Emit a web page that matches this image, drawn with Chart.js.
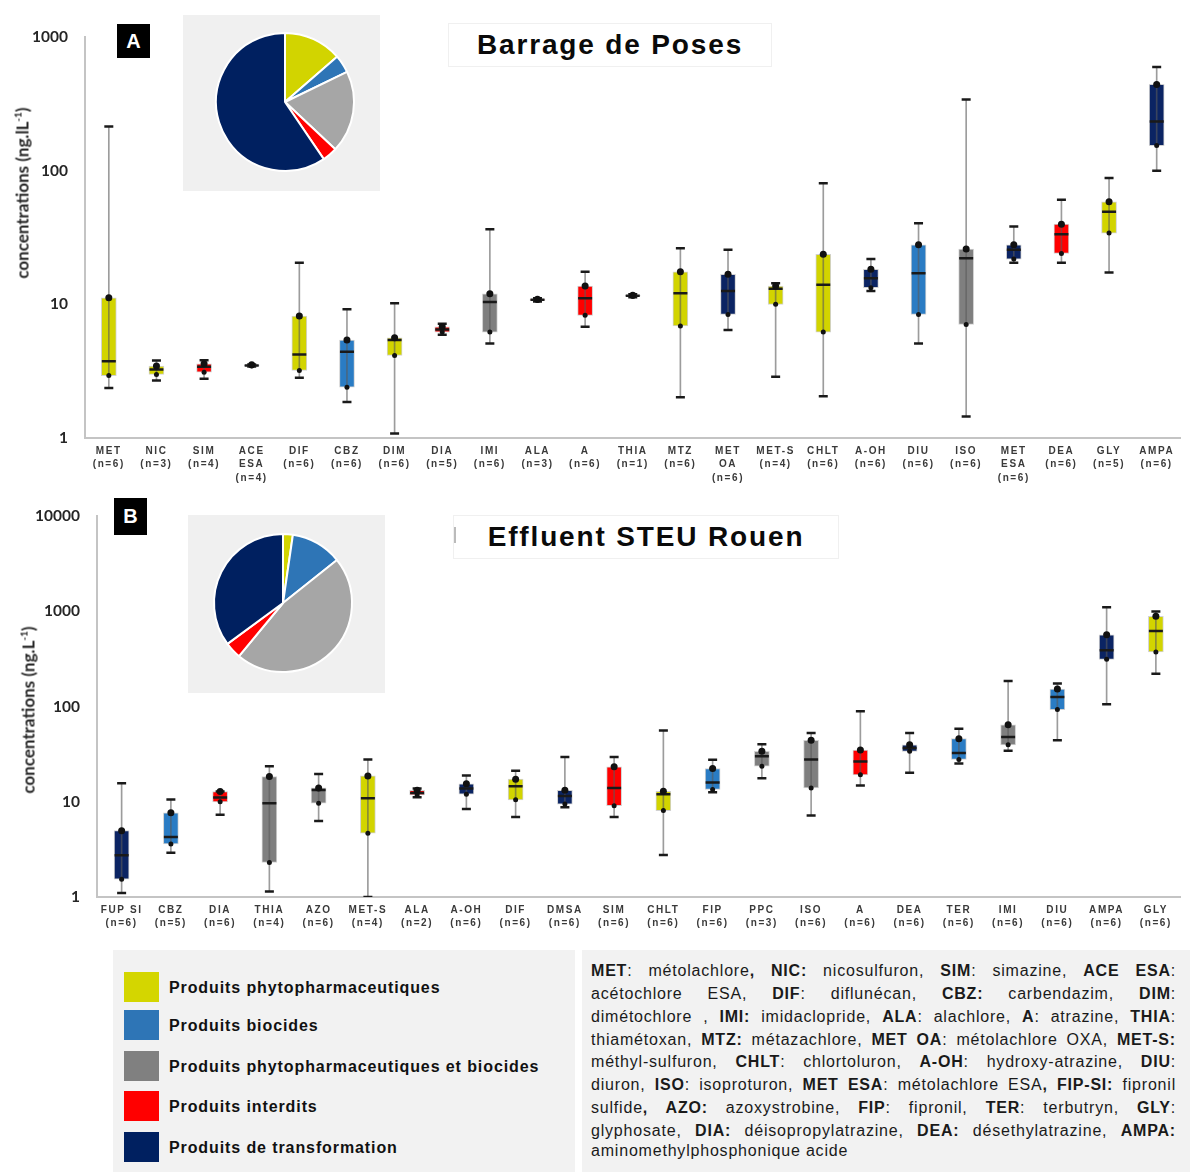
<!DOCTYPE html>
<html>
<head>
<meta charset="utf-8">
<script src="https://cdn.jsdelivr.net/npm/chart.js@4/dist/chart.umd.min.js"></script>
<style>
  body { margin: 0; background: #fff; }
  #page { position: relative; width: 1190px; height: 1172px; overflow: hidden; font-family: "Liberation Sans", Arial, sans-serif; color: #111; }
  .abs { position: absolute; }
  .ytitle { position: absolute; transform: translate(-50%, -50%) rotate(-90deg); white-space: nowrap;
            font-family: Lato, sans-serif; font-weight: bold; font-size: 17px; color: #262626; }
  .ytitle sup { font-size: 10px; }
  .tag { position: absolute; background: #000; color: #fff; font-weight: bold; font-size: 20px;
         display: flex; align-items: center; justify-content: center; }
  .titlebox { position: absolute; background: #fff; border: 1px solid #f0f0f0; font-weight: bold; font-size: 28px;
              letter-spacing: 1.85px; display: flex; align-items: center; justify-content: center; color: #0a0a0a; }
  .piebox { position: absolute; background: #f0f0f0; }
  #legend { left: 113px; top: 950px; width: 462px; height: 222px; background: #f2f2f2; }
  .sw { position: absolute; left: 11px; width: 35px; height: 30px; }
  .lt { position: absolute; left: 56px; font-weight: bold; font-size: 16px; letter-spacing: 0.9px; line-height: 20px; color: #111; white-space: nowrap; }
  #abbr { left: 582px; top: 950px; width: 608px; height: 222px; background: #f2f2f2; }
  #abbr .ln { position: absolute; left: 9px; width: 585px; font-size: 16px; letter-spacing: 0.8px; line-height: 22px; white-space: nowrap;
              text-align: justify; text-align-last: justify; color: #1a1a1a; }
  #abbr .ln.last { text-align-last: left; }
</style>
</head>
<body>
<div id="page">
  <canvas id="boxA" class="abs" width="1190" height="490" style="left:0;top:0"></canvas>
  <canvas id="boxB" class="abs" width="1190" height="450" style="left:0;top:490px"></canvas>

  <div class="piebox" style="left:183px;top:15px;width:197px;height:176px"><canvas id="pieA" width="197" height="176"></canvas></div>
  <div class="piebox" style="left:188px;top:515px;width:197px;height:178px"><canvas id="pieB" width="197" height="178"></canvas></div>

  <div class="tag" style="left:117px;top:24px;width:33px;height:34px">A</div>
  <div class="tag" style="left:114px;top:498px;width:33px;height:37px">B</div>

  <div class="titlebox" style="left:448px;top:23px;width:322px;height:42px">Barrage de Poses</div>
  <div class="titlebox" style="left:453px;top:515px;width:384px;height:42px">Effluent STEU Rouen</div>
  <div class="abs" style="left:454px;top:527px;width:2px;height:16px;background:#bbb"></div>

  <div class="ytitle" style="left:22px;top:193px">concentrations (ng.lL<sup>-1</sup>)</div>
  <div class="ytitle" style="left:28px;top:710px">concentrations (ng.L<sup>-1</sup>)</div>

  <div id="legend" class="abs"></div>

  <div id="abbr" class="abs">
    <div class="ln" style="top:10px"><b>MET</b>: métolachlore<b>, NIC:</b> nicosulfuron, <b>SIM</b>: simazine, <b>ACE ESA</b>:</div>
    <div class="ln" style="top:33px">acétochlore ESA, <b>DIF</b>: diflunécan, <b>CBZ:</b> carbendazim, <b>DIM</b>:</div>
    <div class="ln" style="top:56px">dimétochlore , <b>IMI:</b> imidaclopride, <b>ALA</b>: alachlore, <b>A</b>: atrazine, <b>THIA</b>:</div>
    <div class="ln" style="top:79px">thiamétoxan, <b>MTZ:</b> métazachlore, <b>MET OA</b>: métolachlore OXA, <b>MET-S:</b></div>
    <div class="ln" style="top:101px">méthyl-sulfuron, <b>CHLT</b>: chlortoluron, <b>A-OH</b>: hydroxy-atrazine, <b>DIU</b>:</div>
    <div class="ln" style="top:124px">diuron, <b>ISO</b>: isoproturon, <b>MET ESA</b>: métolachlore ESA<b>, FIP-SI:</b> fipronil</div>
    <div class="ln" style="top:147px">sulfide<b>, AZO:</b> azoxystrobine, <b>FIP</b>: fipronil, <b>TER</b>: terbutryn, <b>GLY</b>:</div>
    <div class="ln" style="top:170px">glyphosate, <b>DIA:</b> déisopropylatrazine, <b>DEA:</b> désethylatrazine, <b>AMPA:</b></div>
    <div class="ln last" style="top:190px">aminomethylphosphonique acide</div>
  </div>
</div>

<script>
// Colours for each product class
const classColors = { P: '#d2d400', B: '#2a7cc4', PB: '#7f7f7f', I: '#ff0000', T: '#0b2463' };
const pieColors = ['#d2d400', '#2e75b6', '#a6a6a6', '#ff0000', '#002060'];
const classLabels = ['Produits phytopharmaceutiques', 'Produits biocides', 'Produits phytopharmaceutiques et biocides', 'Produits interdits', 'Produits de transformation'];
const legendColors = ['#d4d600', '#2e75b6', '#808080', '#ff0000', '#002060'];

// Panel A : Barrage de Poses
const catsA = [['MET', '(n=6)'], ['NIC', '(n=3)'], ['SIM', '(n=4)'], ['ACE', 'ESA', '(n=4)'], ['DIF', '(n=6)'], ['CBZ', '(n=6)'],
  ['DIM', '(n=6)'], ['DIA', '(n=5)'], ['IMI', '(n=6)'], ['ALA', '(n=3)'], ['A', '(n=6)'], ['THIA', '(n=1)'], ['MTZ', '(n=6)'],
  ['MET', 'OA', '(n=6)'], ['MET-S', '(n=4)'], ['CHLT', '(n=6)'], ['A-OH', '(n=6)'], ['DIU', '(n=6)'], ['ISO', '(n=6)'],
  ['MET', 'ESA', '(n=6)'], ['DEA', '(n=6)'], ['GLY', '(n=5)'], ['AMPA', '(n=6)']];
const classA = ['P', 'P', 'I', 'T', 'P', 'B', 'P', 'I', 'PB', 'I', 'I', 'PB', 'P', 'T', 'P', 'P', 'T', 'B', 'PB', 'T', 'I', 'P', 'T'];
const minA = [2.37, 2.69, 2.77, 3.42, 2.82, 1.86, 1.08, 5.92, 5.10, 10.5, 6.80, 11.3, 2.02, 6.42, 2.87, 2.05, 12.6, 5.10, 1.45, 20.5, 20.5, 17.3, 100];
const q1A = [2.93, 2.99, 3.11, 3.45, 3.20, 2.40, 4.14, 6.20, 6.20, 10.7, 8.27, 11.5, 6.88, 8.41, 10.0, 6.20, 13.3, 8.41, 7.08, 21.8, 24.0, 34.1, 154];
const medA = [3.75, 3.26, 3.41, 3.49, 4.22, 4.42, 5.40, 6.49, 10.4, 10.8, 11.1, 11.6, 12.1, 12.6, 13.1, 14.0, 15.7, 17.1, 22.1, 25.6, 33.5, 49.3, 233];
const q3A = [11.2, 3.45, 3.59, 3.53, 8.18, 5.40, 5.62, 6.80, 12.0, 10.9, 13.7, 11.7, 17.5, 16.8, 13.7, 23.7, 18.3, 27.9, 25.9, 27.9, 39.8, 58.5, 442];
const maxA = [214, 3.80, 3.82, 3.55, 20.5, 9.17, 10.2, 7.16, 36.5, 11.1, 17.5, 11.9, 26.3, 25.6, 14.4, 80.4, 21.8, 40.5, 341, 38.2, 60.6, 88.1, 596];
const ticksA = [1, 10, 100, 1000];
const pieA = [13.6, 4.2, 19.2, 3.5, 59.5];

// Panel B : Effluent STEU Rouen
const catsB = [['FUP SI', '(n=6)'], ['CBZ', '(n=5)'], ['DIA', '(n=6)'], ['THIA', '(n=4)'], ['AZO', '(n=6)'], ['MET-S', '(n=4)'],
  ['ALA', '(n=2)'], ['A-OH', '(n=6)'], ['DIF', '(n=6)'], ['DMSA', '(n=6)'], ['SIM', '(n=6)'], ['CHLT', '(n=6)'], ['FIP', '(n=6)'],
  ['PPC', '(n=3)'], ['ISO', '(n=6)'], ['A', '(n=6)'], ['DEA', '(n=6)'], ['TER', '(n=6)'], ['IMI', '(n=6)'], ['DIU', '(n=6)'],
  ['AMPA', '(n=6)'], ['GLY', '(n=6)']];
const classB = ['T', 'B', 'I', 'PB', 'PB', 'P', 'I', 'T', 'P', 'T', 'I', 'P', 'B', 'PB', 'PB', 'I', 'T', 'B', 'PB', 'B', 'T', 'P'];
const minB = [1.10, 2.92, 7.31, 1.14, 6.30, 1.00, 11.2, 8.41, 6.92, 8.75, 6.92, 2.77, 12.6, 17.7, 7.20, 14.8, 20.2, 25.2, 34.5, 44.3, 106, 222];
const q1B = [1.54, 3.61, 10.0, 2.31, 9.69, 4.68, 11.8, 12.0, 10.5, 9.47, 9.10, 8.09, 13.5, 23.7, 14.0, 19.2, 33.9, 27.9, 39.7, 93.1, 314, 376];
const medB = [2.75, 4.26, 11.1, 9.69, 13.3, 10.9, 12.4, 13.8, 14.6, 11.5, 14.0, 12.0, 16.0, 30.2, 27.9, 26.6, 36.7, 32.6, 47.9, 126, 391, 625];
const q3B = [4.98, 7.66, 12.8, 18.4, 14.0, 18.7, 13.2, 15.5, 17.3, 13.2, 23.3, 12.9, 22.4, 33.9, 44.3, 35.0, 39.7, 46.1, 64.5, 153, 569, 889];
const maxB = [15.7, 10.6, 12.8, 23.7, 19.6, 27.9, 13.8, 18.9, 21.2, 29.5, 29.5, 56.0, 27.7, 40.3, 53.0, 89.6, 53.0, 58.7, 186, 175, 1107, 1000];
const ticksB = [1, 10, 100, 1000, 10000];
const pieB = [2.3, 12.0, 46.7, 3.9, 35.1];

// letter-spaced category labels like the original figure
// (y ticks are drawn before the datasets, x ticks after them: see ticks.z below)
const spacing = {
  id: 'spacing',
  beforeDraw(chart) { chart.ctx.letterSpacing = '0px'; },
  beforeDatasetsDraw(chart) { chart.ctx.letterSpacing = '1.6px'; }
};

function pointSet(data, style, radius, width, order) {
  return {
    type: 'line', data: data, showLine: false, order: order,
    pointStyle: style, pointRadius: radius, pointHoverRadius: radius,
    pointBorderWidth: width, pointBorderColor: '#1a1a1a', pointBackgroundColor: '#111'
  };
}

// Box plot: floating bars for boxes and whiskers, points for caps, medians and quartile dots
function createBoxChart(id, cats, classes, mins, q1s, meds, q3s, maxs, ticks, yWidth, xHeight, padTop, padRight) {
  return new Chart(document.getElementById(id), {
    type: 'bar',
    data: {
      labels: cats,
      datasets: [
        {
          data: q1s.map((v, i) => [v, q3s[i]]),
          backgroundColor: classes.map(c => classColors[c]),
          borderColor: 'rgba(0,0,0,0.18)', borderWidth: 1, borderSkipped: false,
          barThickness: 15, grouped: false, order: 6
        },
        {
          data: mins.map((v, i) => [v, maxs[i]]),
          backgroundColor: 'rgba(90,90,90,0.6)',
          barThickness: 1, grouped: false, order: 5
        },
        pointSet(mins, 'line', 4.5, 2.5, 4),
        pointSet(maxs, 'line', 4.5, 2.5, 4),
        pointSet(meds, 'line', 7, 2.5, 3),
        pointSet(q3s, 'circle', 3.5, 0, 2),
        pointSet(q1s, 'circle', 2.5, 0, 1)
      ]
    },
    options: {
      responsive: false,
      animation: false,
      layout: { padding: { top: padTop, right: padRight, left: 0, bottom: 0 } },
      plugins: { legend: { display: false }, tooltip: { enabled: false } },
      scales: {
        x: {
          offset: true,
          grid: { display: false, drawTicks: false },
          border: { color: '#c4c4c4', width: 2 },
          ticks: {
            z: 1,
            autoSkip: false, maxRotation: 0, padding: 6, color: '#3a3a3a',
            font: { family: 'Liberation Sans', size: 10, weight: 'bold', lineHeight: 1.35 }
          },
          afterFit: s => { s.height = xHeight; }
        },
        y: {
          type: 'logarithmic',
          min: ticks[0], max: ticks[ticks.length - 1],
          grid: { display: false, drawTicks: false },
          border: { color: '#c4c4c4', width: 2 },
          afterBuildTicks: s => { s.ticks = ticks.map(v => ({ value: v })); },
          ticks: {
            padding: 17, color: '#262626',
            font: { family: 'Lato', size: 15.5, weight: 'bold' },
            callback: v => String(v)
          },
          afterFit: s => { s.width = yWidth; }
        }
      }
    },
    plugins: [spacing]
  });
}

function createPie(id, values, pad) {
  return new Chart(document.getElementById(id), {
    type: 'pie',
    data: {
      labels: classLabels,
      datasets: [{ data: values, backgroundColor: pieColors, borderColor: '#ffffff', borderWidth: 2 }]
    },
    options: {
      responsive: false,
      animation: false,
      layout: { padding: pad },
      plugins: { legend: { display: false }, tooltip: { enabled: false } }
    }
  });
}

createBoxChart('boxA', catsA, classA, minA, q1A, medA, q3A, maxA, ticksA, 85, 52, 37, 5);
createBoxChart('boxB', catsB, classB, minB, q1B, medB, q3B, maxB, ticksB, 97, 43, 15, 1);
createPie('pieA', pieA, { left: 32, top: 17, right: 25, bottom: 19 });
createPie('pieB', pieB, { left: 25, top: 18, right: 32, bottom: 20 });

// Legend panel
const legend = document.getElementById('legend');
const swatchTops = [22, 60, 101, 141, 182];
classLabels.forEach((label, i) => {
  const sw = document.createElement('div');
  sw.className = 'sw';
  sw.style.top = swatchTops[i] + 'px';
  sw.style.background = legendColors[i];
  legend.appendChild(sw);
  const tx = document.createElement('div');
  tx.className = 'lt';
  tx.style.top = (swatchTops[i] + 6) + 'px';
  tx.textContent = label;
  legend.appendChild(tx);
});
</script>
</body>
</html>
